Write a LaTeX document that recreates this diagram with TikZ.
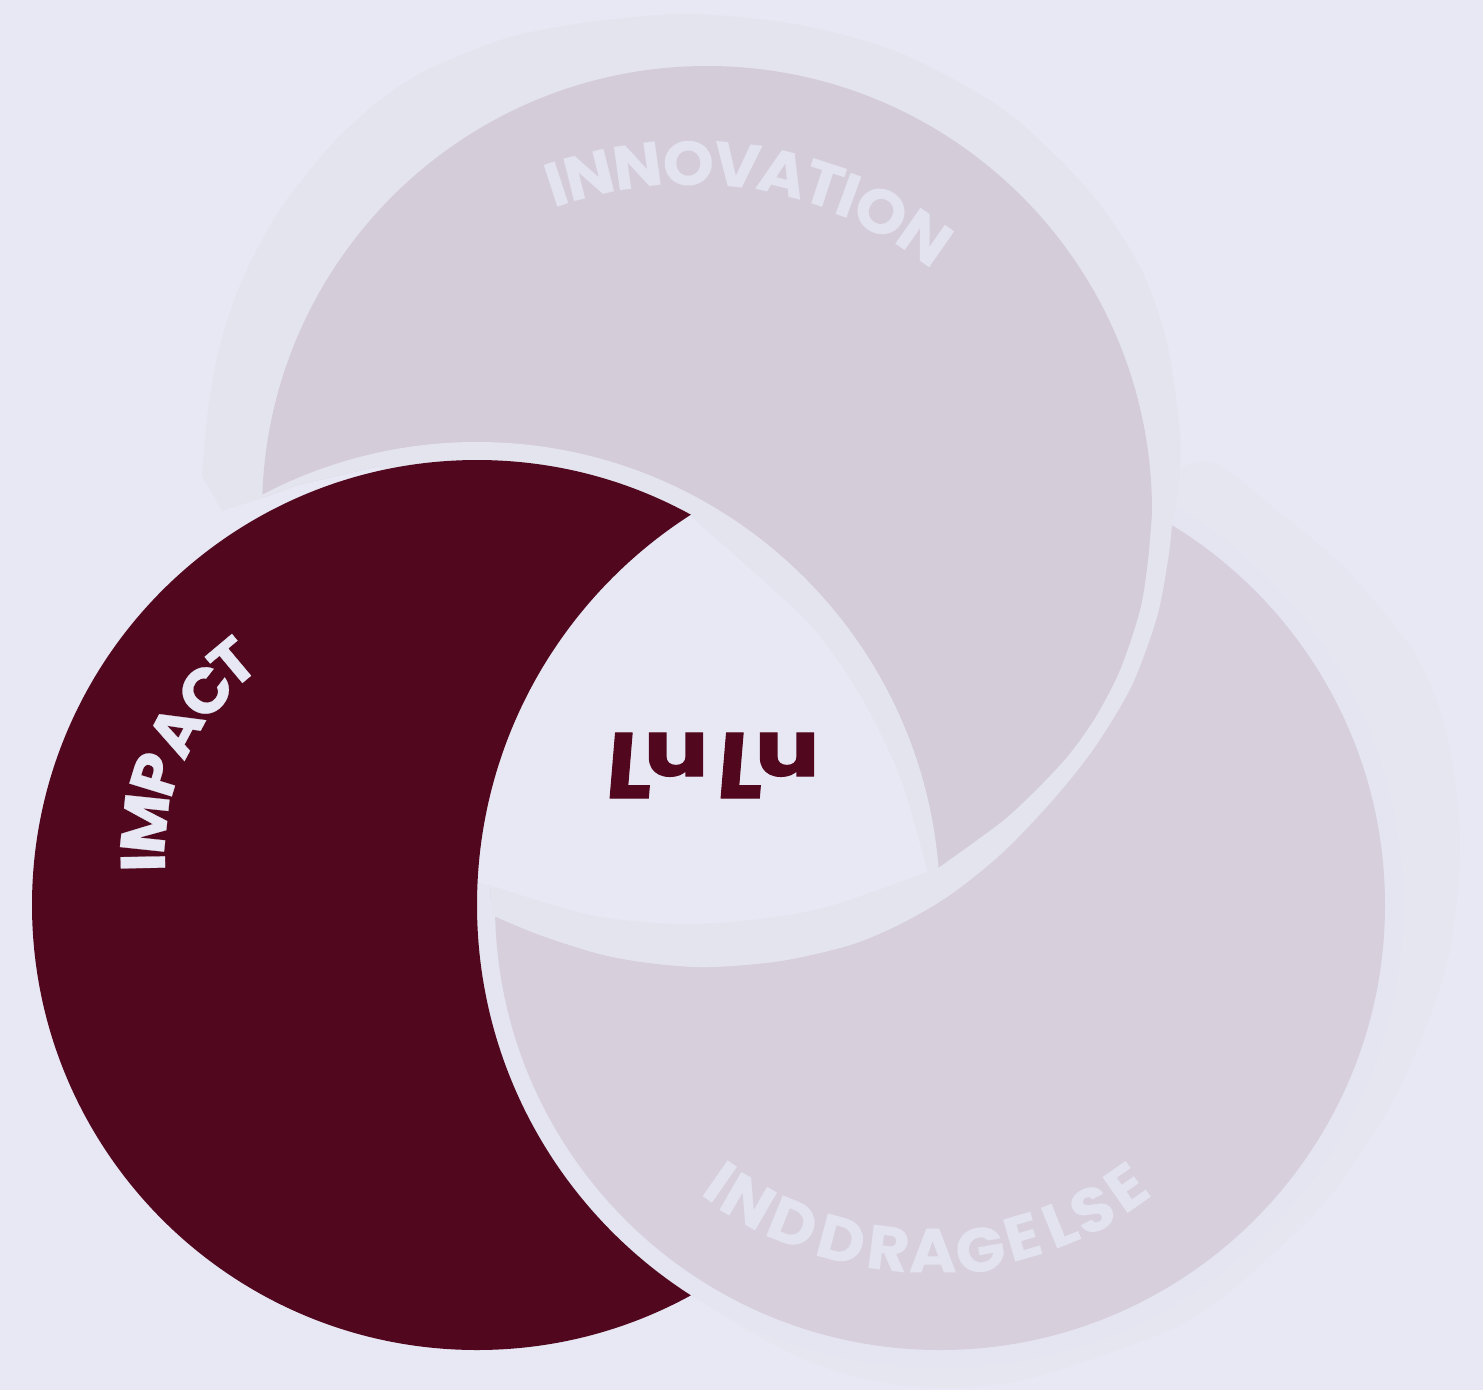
\documentclass[tikz,border=0pt]{standalone}
\usepackage{fontspec}
\usepackage{graphicx}
\newfontfamily\labs[FakeSlant=0.08,FakeBold=1.2]{Poppins Bold}
\newfontfamily\labu[FakeBold=1.5]{Poppins Bold}
\newfontfamily\labn[FakeStretch=1.05,FakeBold=0.15]{Poppins Bold}
\newfontfamily\labb[FakeStretch=1.04,FakeBold=0.4]{Poppins Bold}
\definecolor{bgc}{HTML}{E8E8F4}
\definecolor{shadowc}{HTML}{E4E4EE}
\definecolor{shadowr}{HTML}{E6E6F1}
\definecolor{ringc}{HTML}{E4E5F1}
\definecolor{liltop}{HTML}{D4CCD9}
\definecolor{lilright}{HTML}{D7CFDC}
\definecolor{darkc}{HTML}{51081F}
\definecolor{txtl}{HTML}{E3E3EF}
\newcommand{\topregion}{(222,511) -- plot[smooth] coordinates {(202,476) (208,410) (220,345) (240,285) (262,240) (288,198) (333,143) (380,100) (427,70) (507,38) (590,22) (690,14) (800,25) (900,53) (1000,107) (1067,167) (1107,214) (1143,273) (1167,343) (1180,433) (1179,480) (1172,525)}
 -- plot[smooth] coordinates {(1172,525) (1168,560) (1157,617) (1133,683) (1103,735) (1077,771) (1043,811) (1000,855) (950,895) (900,924) (850,945) (780,961) (707,967) (650,963) (600,954) (540,935) (492,915)}
 -- (490,885) -- (380,480) -- (380,466) -- (297,485) -- (265,497) -- cycle}
\tikzset{
  softletter/.style={anchor=base,inner sep=0pt,text=txtl,font=\labn\fontsize{62}{62}\selectfont},
  brightletter/.style={anchor=base,inner sep=0pt,text=bgc,font=\labb\fontsize{63}{63}\selectfont}}
\begin{document}
\begin{tikzpicture}[x=1pt,y=-1pt]
\useasboundingbox (0,0) rectangle (1483,1390);
\fill[bgc] (0,0) rectangle (1483,1390);
% right circle and its soft shadow
\fill[shadowr] plot[smooth] coordinates {(1183,467) (1217,464) (1280,513) (1347,570) (1413,651) (1443,720) (1458,806) (1458,886) (1443,978) (1397,1093) (1330,1196) (1247,1277) (1180,1325) (1080,1363) (1013,1382) (947,1388) (880,1382) (813,1363) (747,1330) (690,1293)} -- (800,900) -- cycle;
\coordinate (cright) at (940,905);
\coordinate (ctop) at (707,511);
\coordinate (cimp) at (477,905);
\fill[ringc] (cright) circle (463);
\fill[lilright] (cright) circle (445);
% top circle, shadow, cut by halo of impact circle
\begin{scope}
  \clip \topregion;
  \fill[shadowc] (0,0) rectangle (1483,1390);
  \begin{scope}
    \clip plot[smooth] coordinates {(1153,500) (1148,560) (1140,610) (1120,670) (1095,718) (1067,757) (1033,793) (1000,823) (938,868)} -- (600,1000) -- (0,1000) -- (0,0) -- (1300,0) -- (1300,500) -- cycle;
    \fill[liltop] (ctop) circle (445);
  \end{scope}
  \fill[shadowc] (cimp) circle (463);
\end{scope}
% central lens
\fill[bgc] plot[smooth] coordinates {(688,514) (757,575) (813,628) (860,695) (900,777) (927,870)}
  -- plot[smooth] coordinates {(927,872) (830,906) (760,919) (680,924) (590,915) (490,885)}
  -- (470,880) -- (470,800) -- (560,600) -- cycle;
% impact crescent
\begin{scope}[even odd rule]
  \clip (0,0) rectangle (1483,1390) (cright) circle (463);
  \fill[darkc] (cimp) circle (445);
\end{scope}
% curved labels, set letter by letter
\foreach \ch/\px/\py/\ang [count=\n] in {I/562.7/204.7/18, N/594/196/14, N/640.3/187.3/8, O/689/185/2, V/734.7/186.7/-6, A/777.7/194/-14, T/816.7/205/-18, I/841/215.7/-20, O/870.7/230.7/-28, N/912.3/255.3/-35}
  \node[softletter,rotate=\ang] (inn\n) at (\px,\py) {\ch};
\foreach \ch/\px/\py/\ang [count=\n] in {I/165/862/91, M/166.7/825.7/84, P/176.5/780.7/73, A/195.3/740.7/62, C/223/704.3/52, T/246.7/679.3/40}
  \node[brightletter,rotate=\ang] (imp\n) at (\px,\py) {\ch};
\foreach \ch/\px/\py/\ang [count=\n] in {I/707.3/1199.3/-35, N/737.3/1220/-30, D/784.7/1243.2/-22, D/835.7/1260.7/-15, R/885.7/1270/-7, A/932.7/1272.3/0, G/984/1271.3/10, E/1028.3/1257.7/16, L/1068/1244/22, S/1102.3/1229/27, E/1138.7/1205/35}
  \node[softletter,rotate=\ang] (ind\n) at (\px,\py) {\ch};
% logo
\node[anchor=base west,inner sep=0pt,text=darkc] (lulu) at (604,798) {%
  \makebox[40pt][l]{\resizebox{46pt}{65pt}{\labs L}}%
  \makebox[71pt][l]{\raisebox{22pt}{\resizebox{64pt}{43pt}{\labu u}}}%
  \makebox[40pt][l]{\resizebox{46pt}{65pt}{\labs L}}%
  \makebox[56pt][l]{\raisebox{22pt}{\resizebox{64pt}{43pt}{\labu u}}}};
\end{tikzpicture}
\end{document}
